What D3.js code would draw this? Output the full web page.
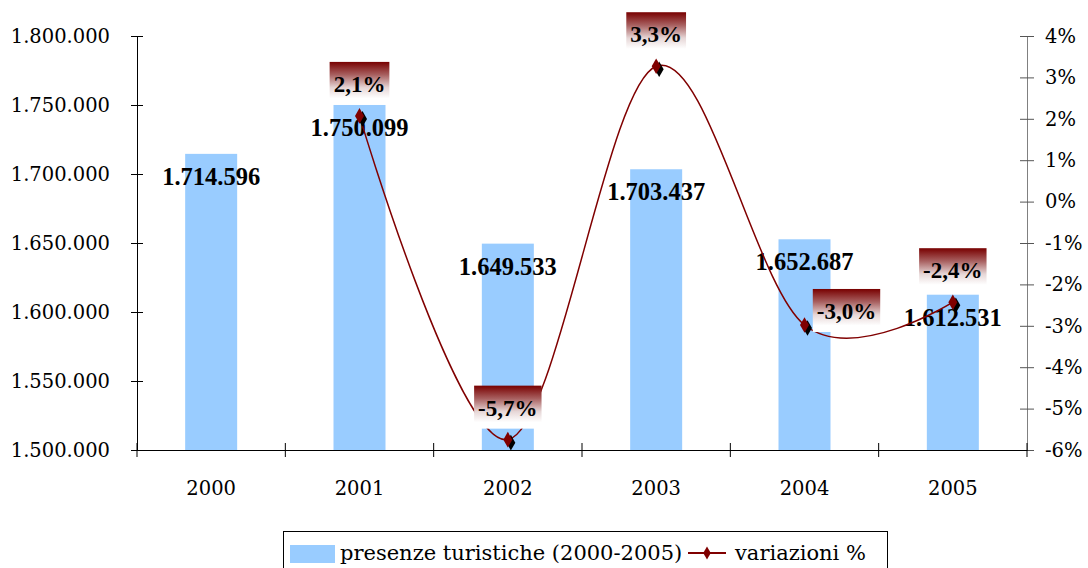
<!DOCTYPE html>
<html><head><meta charset="utf-8">
<script src="https://cdn.jsdelivr.net/npm/d3@7"></script>
<style>
html,body{margin:0;padding:0;background:#fff;}
svg{display:block;font-family:"DejaVu Serif",serif;}
</style></head>
<body><svg id="c" width="1088" height="568"></svg>
<script>
const years = ["2000","2001","2002","2003","2004","2005"];
const presenze = [1714596, 1750099, 1649533, 1703437, 1652687, 1612531];
const variazioni = [null, 2.07, -5.75, 3.27, -2.98, -2.43];
const variazioniLabels = [null, "2,1%", "-5,7%", "3,3%", "-3,0%", "-2,4%"];
const leftTicks = [1500000,1550000,1600000,1650000,1700000,1750000,1800000];
const rightTicks = [-6,-5,-4,-3,-2,-1,0,1,2,3,4];
const legendLabels = ["presenze turistiche (2000-2005)", "variazioni %"];

const barColor = "#99CCFF", lineColor = "#800000";
const regFont = "DejaVu Serif", regSize = 19.5, legSize = 21;
const boldFont = "Liberation Serif";
const L = 137, R = 1027, T = 36, B = 450;
const svg = d3.select("#c");
const it = d3.formatLocale({decimal:",", thousands:".", grouping:[3], currency:["€",""]});
const fmt = it.format(",d");

const x = d3.scaleBand().domain(years).range([L, R]).padding(0);
const yL = d3.scaleLinear().domain([1500000, 1800000]).range([B, T]);
const yR = d3.scaleLinear().domain([-6, 4]).range([B, T]);
const barW = 52;

// gradient
const defs = svg.append("defs");
const g = defs.append("linearGradient").attr("id","lg").attr("x1",0).attr("y1",0).attr("x2",0).attr("y2",1);
g.append("stop").attr("offset","0").attr("stop-color","#780000");
g.append("stop").attr("offset","0.3").attr("stop-color","#a86060");
g.append("stop").attr("offset","0.6").attr("stop-color","#e6d6d6");
g.append("stop").attr("offset","0.85").attr("stop-color","#ffffff");
g.append("stop").attr("offset","1").attr("stop-color","#ffffff");

// bars
svg.append("g").selectAll("rect").data(years).join("rect")
  .attr("x", d => x(d) + (x.bandwidth() - barW) / 2)
  .attr("width", barW)
  .attr("y", (d,i) => yL(presenze[i]))
  .attr("height", (d,i) => B - yL(presenze[i]))
  .attr("fill", barColor);

// left axis
const ga = svg.append("g").attr("transform",`translate(${L},0)`)
  .call(d3.axisLeft(yL).tickValues(leftTicks).tickFormat(fmt).tickSizeOuter(0).tickSize(6).tickPadding(21));
ga.select(".domain").attr("stroke","#000");
ga.selectAll(".tick line").attr("x1",6).attr("x2",-6).attr("stroke","#000");
ga.selectAll("text").attr("font-size",regSize).attr("font-family",regFont).attr("fill","#000");

// right axis
const gr = svg.append("g").attr("transform",`translate(${R},0)`)
  .call(d3.axisRight(yR).tickValues(rightTicks).tickFormat(d => d + "%").tickSizeOuter(0).tickSize(7).tickPadding(11));
gr.select(".domain").attr("stroke","#808080");
gr.selectAll(".tick line").attr("x1",-7).attr("x2",7).attr("stroke","#555");
gr.selectAll("text").attr("font-size",regSize).attr("font-family",regFont).attr("fill","#000");

// bottom axis
const gb = svg.append("g").attr("transform",`translate(0,${B})`)
  .call(d3.axisBottom(x).tickSize(0).tickSizeOuter(0).tickPadding(31));
gb.select(".domain").attr("stroke","#000");
gb.selectAll("text").attr("font-size",regSize).attr("font-family",regFont).attr("fill","#000");
const bounds = years.map(d => x(d)).concat([R]);
gb.selectAll("line.bt").data(bounds).join("line").attr("class","bt")
  .attr("x1", d => d).attr("x2", d => d).attr("y1",-7).attr("y2",7).attr("stroke","#000");

// bar value labels
svg.append("g").selectAll("text").data(years).join("text")
  .attr("x", d => x(d) + x.bandwidth()/2)
  .attr("y", (d,i) => yL(presenze[i]) + 31)
  .attr("text-anchor","middle").attr("font-family",boldFont).attr("font-weight","bold").attr("font-size",24.5)
  .text((d,i) => fmt(presenze[i]));

// line
const pts = years.map((d,i) => ({x: x(d) + x.bandwidth()/2, v: variazioni[i], i})).filter(p => p.v !== null);
svg.append("path").datum(pts)
  .attr("d", d3.line().x(p => p.x).y(p => yR(p.v)).curve(d3.curveCardinal.tension(0)))
  .attr("fill","none").attr("stroke",lineColor).attr("stroke-width",1.5);

const dia = d3.symbol().type(d3.symbolDiamond).size(70);
svg.append("g").selectAll("path").data(pts).join("path")
  .attr("d", dia).attr("transform", p => `translate(${p.x+3},${yR(p.v)+3})`).attr("fill","#000");
svg.append("g").selectAll("path").data(pts).join("path")
  .attr("d", dia).attr("transform", p => `translate(${p.x},${yR(p.v)})`).attr("fill",lineColor);

// percentage labels (layout offsets)
const labelShift = {4: [42, 18]};
const lg = svg.append("g");
pts.forEach(p => {
  const s = labelShift[p.i] || [0, 0];
  const cx = p.x + s[0];
  const bottom = yR(p.v) - 11 + s[1];
  const top = bottom - 43;
  const grp = lg.append("g");
  const t = grp.append("text").attr("x", cx).attr("y", top + 30)
    .attr("text-anchor","middle").attr("font-family",boldFont).attr("font-weight","bold").attr("font-size",23)
    .text(variazioniLabels[p.i]);
  const w = t.node().getComputedTextLength() + 8;
  grp.insert("rect","text").attr("x", cx - w/2).attr("y", top).attr("width", w).attr("height", 43)
    .attr("fill","url(#lg)");
});

// legend
const leg = svg.append("g");
leg.append("rect").attr("x",283.5).attr("y",531.5).attr("width",604).attr("height",50)
  .attr("fill","#fff").attr("stroke","#000");
leg.append("rect").attr("x",290).attr("y",545).attr("width",45).attr("height",18).attr("fill",barColor);
leg.append("text").attr("x",340).attr("y",560).attr("font-size",legSize).attr("font-family",regFont).text(legendLabels[0]);
leg.append("line").attr("x1",688).attr("x2",726).attr("y1",553).attr("y2",553).attr("stroke",lineColor).attr("stroke-width",2);
leg.append("path").attr("d",d3.symbol().type(d3.symbolDiamond).size(50)).attr("transform","translate(707,553)").attr("fill",lineColor);
leg.append("text").attr("x",735).attr("y",560).attr("font-size",legSize).attr("font-family",regFont).text(legendLabels[1]);
</script></body></html>
